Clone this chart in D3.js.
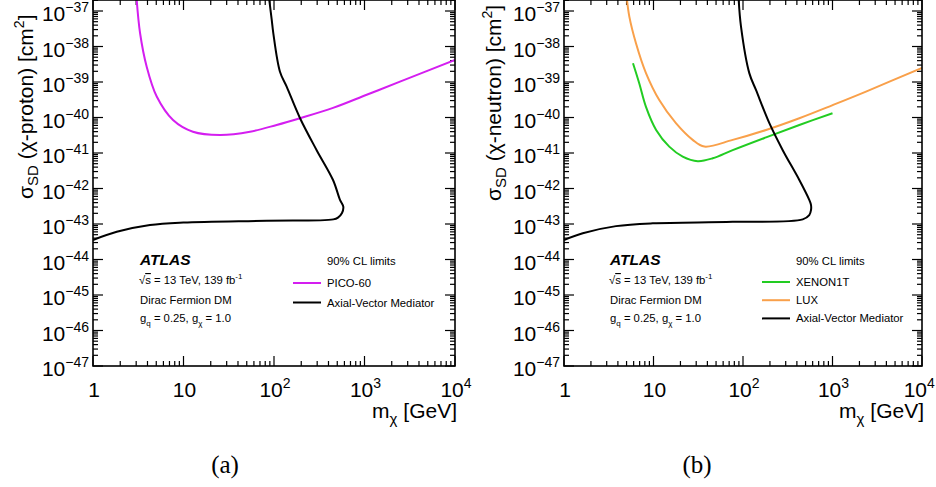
<!DOCTYPE html>
<html><head><meta charset="utf-8">
<script src="https://cdn.jsdelivr.net/npm/d3@7"></script>
<style>html,body{margin:0;padding:0;background:#fff;}svg{display:block;}</style>
</head><body>
<script>
// ---------- data ----------
const xTickValues = [1, 10, 100, 1000, 10000];
const xTickBase = ["1", "10", "10", "10", "10"];
const xTickSup = ["", "", "2", "3", "4"];
const yTickExponents = [-37, -38, -39, -40, -41, -42, -43, -44, -45, -46, -47];

// panel (a): PICO-60 spin-dependent proton limit
const picoMass  = [3.04, 3.31, 3.92, 5.06, 7.66, 12.7, 25.3, 54.3, 107, 194, 449, 1057, 2466, 10000];
const picoSigma = [10**-36.69, 10**-37.62, 10**-38.57, 10**-39.41, 10**-40.07, 10**-40.40, 10**-40.49, 10**-40.40, 10**-40.21, 10**-40.02, 10**-39.73, 10**-39.36, 10**-38.99, 10**-38.38];

// panel (a): ATLAS axial-vector mediator limit (proton)
const atlasPMass  = [88.7, 94.4, 98.3, 116.4, 138, 194, 296, 449, 536, 583, 564, 509, 452, 83, 9.95, 4.26, 1.83, 1];
const atlasPSigma = [10**-36.69, 10**-37.25, 10**-37.63, 10**-38.71, 10**-39.13, 10**-40.02, 10**-40.92, 10**-41.76, 10**-42.32, 10**-42.51, 10**-42.69, 10**-42.82, 10**-42.87, 10**-42.91, 10**-42.96, 10**-43.03, 10**-43.22, 10**-43.45];

// panel (b): LUX spin-dependent neutron limit
const luxMass  = [5.06, 5.37, 6.37, 8.24, 11.6, 17.8, 27.4, 37, 76.7, 181, 426, 1005, 2367, 10000];
const luxSigma = [10**-36.69, 10**-37.16, 10**-37.91, 10**-38.75, 10**-39.51, 10**-40.16, 10**-40.63, 10**-40.82, 10**-40.63, 10**-40.35, 10**-40.02, 10**-39.65, 10**-39.27, 10**-38.60];

// panel (b): XENON1T spin-dependent neutron limit
const xenonMass  = [5.9, 6.94, 8.24, 10.7, 15, 21.2, 31.2, 45.9, 76.7, 181, 426, 1000];
const xenonSigma = [10**-38.47, 10**-39.04, 10**-39.70, 10**-40.35, 10**-40.82, 10**-41.10, 10**-41.23, 10**-41.15, 10**-40.92, 10**-40.56, 10**-40.21, 10**-39.88];

// panel (b): ATLAS axial-vector mediator limit (neutron)
const atlasNMass  = [89.5, 95, 117.6, 140, 197, 278, 426, 550, 575, 575, 550, 465, 76.7, 9.8, 3.81, 1.62, 1];
const atlasNSigma = [10**-36.69, 10**-37.44, 10**-38.75, 10**-39.23, 10**-40.16, 10**-40.92, 10**-41.76, 10**-42.32, 10**-42.46, 10**-42.61, 10**-42.75, 10**-42.87, 10**-42.94, 10**-42.98, 10**-43.06, 10**-43.26, 10**-43.45];

// ---------- drawing ----------
const W = 936, H = 487;
const svg = d3.select("body").append("svg").attr("width", W).attr("height", H)
  .style("font-family", "Liberation Sans, Arial, sans-serif");

const panels = [
  { x0: 93, x1: 455, ytitle: "(χ-proton)", caption: "(a)", capX: 225, titleDX: -60, titleStart: 199,
    series: [
      { m: picoMass, s: picoSigma, color: "#d41ef0", name: "PICO-60" },
      { m: atlasPMass, s: atlasPSigma, color: "#000000", name: "Axial-Vector Mediator" }
    ],
    textX: 140, legX: 293, legY0: 283 },
  { x0: 564, x1: 922, ytitle: "(χ-neutron)", caption: "(b)", capX: 697, titleDX: -63, titleStart: 201,
    series: [
      { m: xenonMass, s: xenonSigma, color: "#22cc22", name: "XENON1T" },
      { m: luxMass, s: luxSigma, color: "#f9a04a", name: "LUX" },
      { m: atlasNMass, s: atlasNSigma, color: "#000000", name: "Axial-Vector Mediator" }
    ],
    textX: 610, legX: 762, legY0: 282 }
];

const yTop = 0, yBot = 366;

panels.forEach((p, pi) => {
  const x = d3.scaleLog().domain([1, 1e4]).range([p.x0, p.x1]);
  const y = d3.scaleLog().domain([1e-47, 10 ** -36.69]).range([yBot, yTop]);
  const g = svg.append("g");

  const clipId = "clip" + pi;
  svg.append("clipPath").attr("id", clipId).append("rect")
    .attr("x", p.x0).attr("y", yTop).attr("width", p.x1 - p.x0).attr("height", yBot - yTop);

  // ticks
  const tk = g.append("g").attr("stroke", "#000").attr("stroke-width", 1.2);
  for (let e = 0; e <= 4; e++) {
    for (let k = 1; k <= 9; k++) {
      const v = k * 10 ** e;
      if (v > 1e4) break;
      const len = k === 1 ? 10 : 5;
      const px = x(v);
      tk.append("line").attr("x1", px).attr("x2", px).attr("y1", yBot).attr("y2", yBot - len);
      tk.append("line").attr("x1", px).attr("x2", px).attr("y1", yTop).attr("y2", yTop + len);
    }
  }
  for (let e = -47; e <= -37; e++) {
    for (let k = 1; k <= 9; k++) {
      const v = k * 10 ** e;
      if (v > 10 ** -36.69) break;
      const len = k === 1 ? 10 : 5;
      const py = y(v);
      tk.append("line").attr("x1", p.x0).attr("x2", p.x0 + len).attr("y1", py).attr("y2", py);
      tk.append("line").attr("x1", p.x1).attr("x2", p.x1 - len).attr("y1", py).attr("y2", py);
    }
  }

  // curves
  const line = d3.line().x(d => x(d[0])).y(d => y(d[1])).curve(d3.curveCatmullRom.alpha(0.5));
  const cg = g.append("g").attr("clip-path", `url(#${clipId})`);
  p.series.forEach(s => {
    const pts = s.m.map((m, i) => [m, s.s[i]]);
    cg.append("path").attr("d", line(pts)).attr("fill", "none")
      .attr("stroke", s.color).attr("stroke-width", 2);
  });

  // frame
  g.append("rect").attr("x", p.x0).attr("y", yTop).attr("width", p.x1 - p.x0).attr("height", yBot - yTop)
    .attr("fill", "none").attr("stroke", "#000").attr("stroke-width", 1.6);

  // y tick labels
  yTickExponents.forEach(e => {
    const t = g.append("text").attr("x", p.x0 - 4).attr("y", y(10 ** e) + 10)
      .attr("text-anchor", "end").attr("font-size", 21).attr("fill", "#000");
    t.append("tspan").text("10");
    t.append("tspan").attr("dy", -9).attr("font-size", 14).text("\u2212" + (-e));
  });

  // x tick labels
  xTickValues.forEach((v, i) => {
    const t = g.append("text").attr("x", x(v) + 1).attr("y", 397)
      .attr("text-anchor", "middle").attr("font-size", 21).attr("fill", "#000");
    t.append("tspan").text(xTickBase[i]);
    if (xTickSup[i]) t.append("tspan").attr("dy", -9).attr("font-size", 14).text(xTickSup[i]);
    // keep the label inside the window
    const bb = t.node().getBBox();
    if (bb.x + bb.width > W - 1) {
      t.attr("x", +t.attr("x") - (bb.x + bb.width - (W - 1)));
    }
  });

  // x title
  const xt = g.append("text").attr("x", p.x1 + 2).attr("y", 418).attr("text-anchor", "end")
    .attr("font-size", 21).attr("fill", "#000");
  xt.append("tspan").text("m");
  xt.append("tspan").attr("dy", 6).attr("font-size", 15).text("χ");
  xt.append("tspan").attr("dy", -6).text(" [GeV]");

  // y title
  const ytx = p.x0 + p.titleDX;
  const yt = g.append("text").attr("transform", `translate(${ytx},${p.titleStart}) rotate(-90)`)
    .attr("text-anchor", "start").attr("font-size", 21).attr("fill", "#000");
  yt.append("tspan").text("σ");
  yt.append("tspan").attr("dy", 5).attr("font-size", 15).text("SD");
  yt.append("tspan").attr("dy", -5).text(" " + p.ytitle + " [cm");
  yt.append("tspan").attr("dy", -9).attr("font-size", 14).text("2");
  yt.append("tspan").attr("dy", 9).text("]");

  // ATLAS text block
  const tx = p.textX;
  g.append("text").attr("x", tx).attr("y", 265).attr("font-size", 15.5)
    .attr("font-weight", "bold").attr("font-style", "italic").text("ATLAS");
  const s1 = g.append("text").attr("x", tx - 1).attr("y", 284).attr("font-size", 11.3);
  s1.append("tspan").text("√");
  s1.append("tspan").attr("text-decoration", "overline").text("s");
  s1.append("tspan").text(" = 13 TeV, 139 fb");
  s1.append("tspan").attr("dy", -5).attr("font-size", 8).text("-1");
  g.append("text").attr("x", tx).attr("y", 304).attr("font-size", 11.3).text("Dirac Fermion DM");
  const s3 = g.append("text").attr("x", tx).attr("y", 322).attr("font-size", 11.3);
  s3.append("tspan").text("g");
  s3.append("tspan").attr("dy", 4).attr("font-size", 8).text("q");
  s3.append("tspan").attr("dy", -4).text(" = 0.25, g");
  s3.append("tspan").attr("dy", 4).attr("font-size", 8).text("χ");
  s3.append("tspan").attr("dy", -4).text(" = 1.0");

  // legend
  const lx = p.legX;
  g.append("text").attr("x", lx + 34).attr("y", 265).attr("font-size", 11.3).text("90% CL limits");
  const step = p.series.length === 2 ? 19.5 : 18.2;
  p.series.forEach((s, i) => {
    const ly = p.legY0 + i * step;
    g.append("line").attr("x1", lx).attr("x2", lx + 28).attr("y1", ly).attr("y2", ly)
      .attr("stroke", s.color).attr("stroke-width", 2);
    g.append("text").attr("x", lx + 34).attr("y", ly + 4).attr("font-size", 11.3).text(s.name);
  });

  // caption
  svg.append("text").attr("x", p.capX).attr("y", 473).attr("text-anchor", "middle")
    .attr("font-family", "Liberation Serif, Times New Roman, serif").attr("font-size", 25)
    .text(p.caption);
});
</script>
</body></html>
